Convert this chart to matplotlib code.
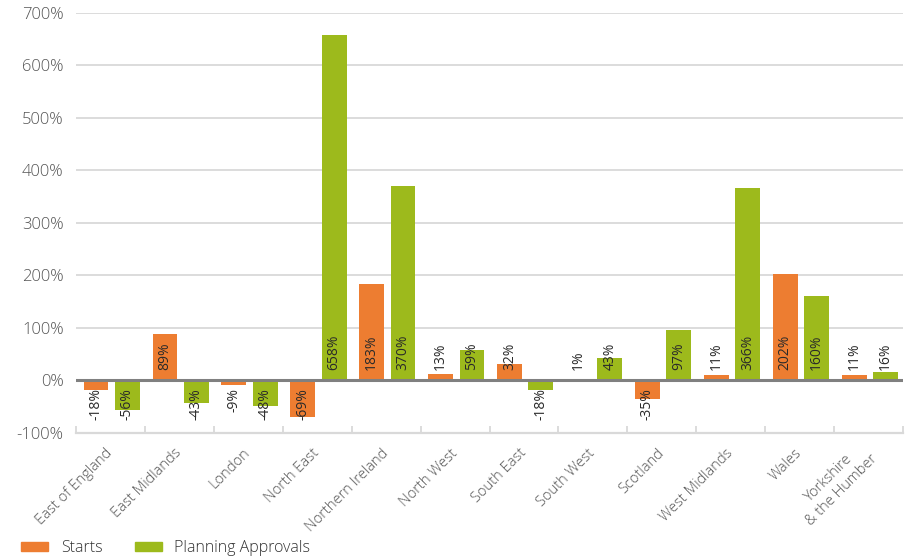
import matplotlib.pyplot as plt
from matplotlib.patches import Rectangle
from matplotlib.ticker import FuncFormatter, MultipleLocator
import numpy as np

plt.rcParams['font.family'] = ['Open Sans', 'DejaVu Sans']

regions = ["East of England", "East Midlands", "London", "North East",
           "Northern Ireland", "North West", "South East", "South West",
           "Scotland", "West Midlands", "Wales", "Yorkshire\n& the Humber"]
starts = [-18, 89, -9, -69, 183, 13, 32, 1, -35, 11, 202, 11]
approvals = [-56, -43, -48, 658, 370, 59, -18, 43, 97, 366, 160, 16]

ORANGE = '#ED7D31'
GREEN = '#9DBA1C'
GRID = '#d9d9d9'
TEXT = '#555555'

fig = plt.figure(figsize=(9.18, 5.6), dpi=100)
ax = fig.add_axes([0.0828, 0.2268, 0.9009, 0.75])

x = np.arange(len(regions))
width = 0.36
x_starts = x - 0.21
x_appr = x + 0.245

ax.bar(x_starts, starts, width, color=ORANGE, zorder=2)
ax.bar(x_appr, approvals, width, color=GREEN, zorder=2)

# value labels, rotated, just off the zero line
for xs, vals in ((x_starts, starts), (x_appr, approvals)):
    for xi, v in zip(xs, vals):
        if v >= 0:
            ax.annotate(f"{v}%", (xi, 0), xytext=(0, 7.5), textcoords='offset points',
                        rotation=90, ha='center', va='bottom', fontsize=10,
                        color='#2a2a2a', zorder=3)
        else:
            ax.annotate(f"{v}%", (xi, 0), xytext=(0, -5.5), textcoords='offset points',
                        rotation=90, ha='center', va='top', fontsize=10,
                        color='#2a2a2a', zorder=3)

ax.set_xlim(-0.5, len(regions) - 0.5)
ax.set_ylim(-100, 700)
ax.yaxis.set_major_locator(MultipleLocator(100))
ax.yaxis.set_major_formatter(FuncFormatter(lambda v, p: f"{v:.0f}%"))
ax.grid(axis='y', color=GRID, lw=1.3, zorder=0)
ax.axhline(0, color='#808080', lw=2.2, zorder=2.5)

for side in ('top', 'left', 'right'):
    ax.spines[side].set_visible(False)
ax.spines['bottom'].set_color(GRID)
ax.spines['bottom'].set_linewidth(1.6)

ax.set_xticks(x)
ax.set_xticklabels(regions, rotation=45, ha='right', va='center',
                   rotation_mode='anchor', multialignment='center',
                   fontweight='light')
ax.set_xticks(np.arange(len(regions) + 1) - 0.5, minor=True)
ax.tick_params(axis='x', which='major', length=0, pad=13, labelsize=10.5,
               labelcolor=TEXT)
ax.tick_params(axis='x', which='minor', length=5, direction='in', color=GRID,
               width=1.3)
ax.tick_params(axis='y', length=0, pad=9, labelsize=12, labelcolor=TEXT)
for lbl in ax.get_yticklabels():
    lbl.set_fontweight('light')

handles = [Rectangle((0, 0), 1, 1, color=ORANGE), Rectangle((0, 0), 1, 1, color=GREEN)]
fig.legend(handles, ["Starts", "Planning Approvals"], loc='center left',
           bbox_to_anchor=(0.0229, 0.021), ncol=2, frameon=False,
           prop={'size': 11.5, 'weight': 'light'},
           handlelength=1.7, handleheight=0.4, handletextpad=0.8,
           columnspacing=2.0, borderpad=0, borderaxespad=0, labelcolor='#333333')

fig.savefig('out.png', dpi=100)
